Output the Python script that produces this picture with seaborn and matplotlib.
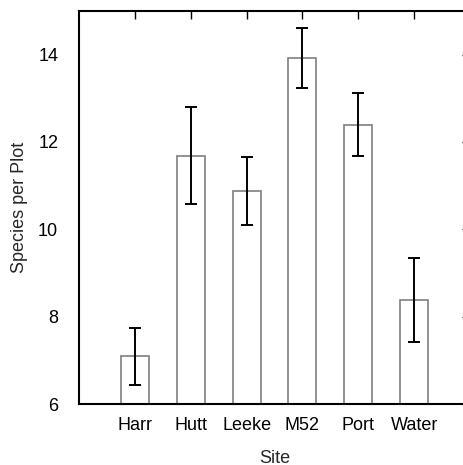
import matplotlib
matplotlib.use("Agg")
import matplotlib.pyplot as plt
import seaborn as sns
import numpy as np
import pandas as pd

sites = ["Harr", "Hutt", "Leeke", "M52", "Port", "Water"]
means = [7.10, 11.69, 10.87, 13.92, 12.40, 8.38]
err_low = [6.44, 10.57, 10.09, 13.23, 11.68, 7.42]
err_high = [7.75, 12.80, 11.66, 14.62, 13.12, 9.35]
yticks = [6, 8, 10, 12, 14]

sns.set_style("white")
plt.rcParams["font.family"] = ["Liberation Sans", "DejaVu Sans"]

fig = plt.figure(figsize=(4.64, 4.65), dpi=100)
ax = fig.add_axes([79/464, 61/465, (470-79)/464, (404-11)/465])

df = pd.DataFrame({"Site": sites, "Species": means})
sns.barplot(data=df, x="Site", y="Species", ax=ax, color="white",
            edgecolor="#7f7f7f", linewidth=1.2, width=0.5, errorbar=None,
            saturation=1)

pos = np.arange(len(sites))
m = np.array(means)
ax.errorbar(pos, m, yerr=[m - np.array(err_low), np.array(err_high) - m],
            fmt="none", ecolor="black", elinewidth=1.4, capsize=4, capthick=1.4)

fs = 13
ax.set_xlim(-1, 6)
ax.set_ylim(6, 15)
ax.set_yticks(yticks)
ax.set_yticklabels([str(t) for t in yticks])
ax.set_xticks(pos)
ax.set_xticklabels(sites)
ax.set_xlabel("Site", fontsize=fs, va="center")
ax.set_ylabel("Species per Plot", fontsize=fs, va="center")
ax.tick_params(axis="both", direction="in", labelsize=fs, top=True, right=True,
               length=6, width=1, colors="black")
ax.tick_params(axis="y", pad=15)
ax.tick_params(axis="x", pad=9)
ax.yaxis.set_label_coords(-59/391, 0.5)
ax.xaxis.set_label_coords(0.5, -54/393)
for s in ax.spines.values():
    s.set_visible(True)
    s.set_color("black")
    s.set_linewidth(1.5)

fig.savefig("out.png", dpi=100)
